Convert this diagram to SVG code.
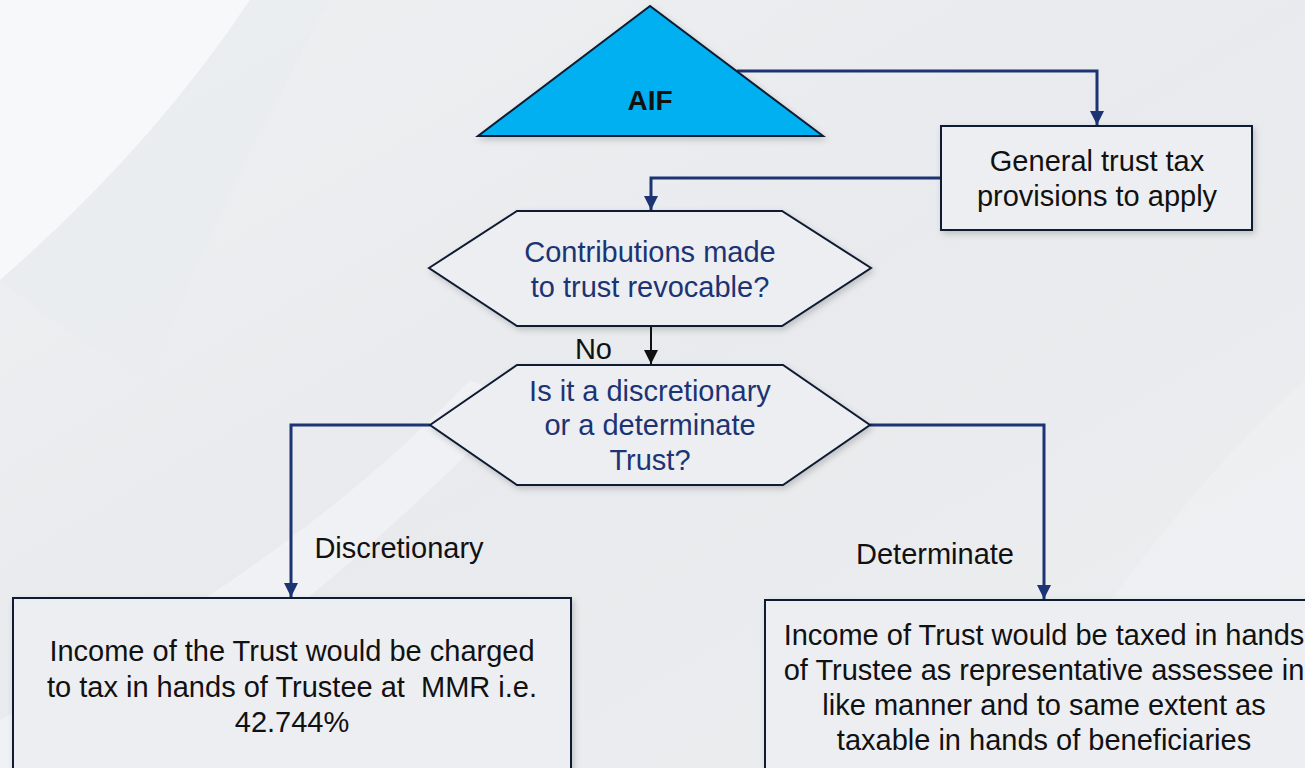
<svg xmlns="http://www.w3.org/2000/svg" width="1305" height="768" viewBox="0 0 1305 768">
  <style>
    .txt { font-family: "Liberation Sans", Arial, sans-serif; font-size: 29px; fill: #111111; text-anchor: middle; }
    .q { fill: #1c3473; }
    .shape { stroke: #0f1a33; stroke-width: 2; fill: #eceef1; }
    .conn { fill: none; stroke: #1c3473; stroke-width: 3; }
    .conn-k { fill: none; stroke: #111111; stroke-width: 2; }
  </style>
  <defs>
    <linearGradient id="bg" x1="0" y1="0" x2="1" y2="1">
      <stop offset="0" stop-color="#eef0f2"/>
      <stop offset="0.5" stop-color="#e8eaed"/>
      <stop offset="1" stop-color="#eceef0"/>
    </linearGradient>
    <filter id="shadow" x="-10%" y="-10%" width="130%" height="130%">
      <feDropShadow dx="2" dy="3" stdDeviation="3" flood-color="#000000" flood-opacity="0.18"/>
    </filter>
    <marker id="arrow" viewBox="0 0 14 16" refX="14" refY="8" markerWidth="14" markerHeight="16" markerUnits="userSpaceOnUse" orient="auto">
      <path d="M0,1 L14,8 L0,15 Z" fill="#1c3473"/>
    </marker>
    <marker id="arrow-k" viewBox="0 0 14 16" refX="14" refY="8" markerWidth="14" markerHeight="16" markerUnits="userSpaceOnUse" orient="auto">
      <path d="M0,1 L14,8 L0,15 Z" fill="#111111"/>
    </marker>
  </defs>

  <!-- background with soft curved bands -->
  <rect x="0" y="0" width="1305" height="768" fill="url(#bg)"/>
  <path d="M0,0 L250,0 Q150,150 0,280 Z" fill="#f7f8f9"/>
  <path d="M250,0 L330,0 Q220,200 150,380 Q60,330 0,280 Q150,150 250,0 Z" fill="#eaecee" opacity="0.6"/>
  <path d="M470,380 Q300,560 0,720 L0,768 L80,768 Q330,600 520,400 Z" fill="#f3f4f6" opacity="0.7"/>
  <path d="M1305,380 Q1150,520 1000,768 L1305,768 Z" fill="#f0f1f3" opacity="0.6"/>

  <!-- connectors -->
  <g id="connectors">
    <path class="conn" d="M737,71 H1097 V125" marker-end="url(#arrow)"/>
    <path class="conn" d="M941,178 H651 V210" marker-end="url(#arrow)"/>
    <path class="conn-k" d="M651,326 V364" marker-end="url(#arrow-k)"/>
    <path class="conn" d="M430,425 H291 V597" marker-end="url(#arrow)"/>
    <path class="conn" d="M870,425 H1044 V599" marker-end="url(#arrow)"/>
    <text class="txt" x="612" y="359" text-anchor="end" style="text-anchor:end">No</text>
    <text class="txt" x="399" y="558">Discretionary</text>
    <text class="txt" x="935" y="564">Determinate</text>
  </g>

  <g id="aif">
    <polygon points="650,6 478,136 823,136" fill="#00b0f0" stroke="#0f1a33" stroke-width="2" filter="url(#shadow)"/>
    <text class="txt" x="650" y="110" style="font-weight:bold;font-size:28px">AIF</text>
  </g>

  <g id="general-trust">
    <rect class="shape" x="941" y="126" width="311" height="104" filter="url(#shadow)"/>
    <text class="txt" x="1097" y="171">General trust tax</text>
    <text class="txt" x="1097" y="206">provisions to apply</text>
  </g>

  <g id="revocable">
    <polygon class="shape" points="429,268 517,211 782,211 871,268 782,326 517,326" filter="url(#shadow)"/>
    <text class="txt q" x="650" y="262">Contributions made</text>
    <text class="txt q" x="650" y="297">to trust revocable?</text>
  </g>

  <g id="trust-type">
    <polygon class="shape" points="430,425 517,365 783,365 870,425 783,485 517,485" filter="url(#shadow)"/>
    <text class="txt q" x="650" y="401">Is it a discretionary</text>
    <text class="txt q" x="650" y="435">or a determinate</text>
    <text class="txt q" x="650" y="470">Trust?</text>
  </g>

  <g id="discretionary">
    <rect class="shape" x="13" y="598" width="558" height="200" filter="url(#shadow)"/>
    <text class="txt" x="292" y="661">Income of the Trust would be charged</text>
    <text class="txt" x="292" y="697" xml:space="preserve">to tax in hands of Trustee at  MMR i.e.</text>
    <text class="txt" x="292" y="732">42.744%</text>
  </g>

  <g id="determinate">
    <rect class="shape" x="765" y="600" width="600" height="200" filter="url(#shadow)"/>
    <text class="txt" x="1044" y="645">Income of Trust would be taxed in hands</text>
    <text class="txt" x="1044" y="680">of Trustee as representative assessee in</text>
    <text class="txt" x="1044" y="715">like manner and to same extent as</text>
    <text class="txt" x="1044" y="750">taxable in hands of beneficiaries</text>
  </g>
</svg>
